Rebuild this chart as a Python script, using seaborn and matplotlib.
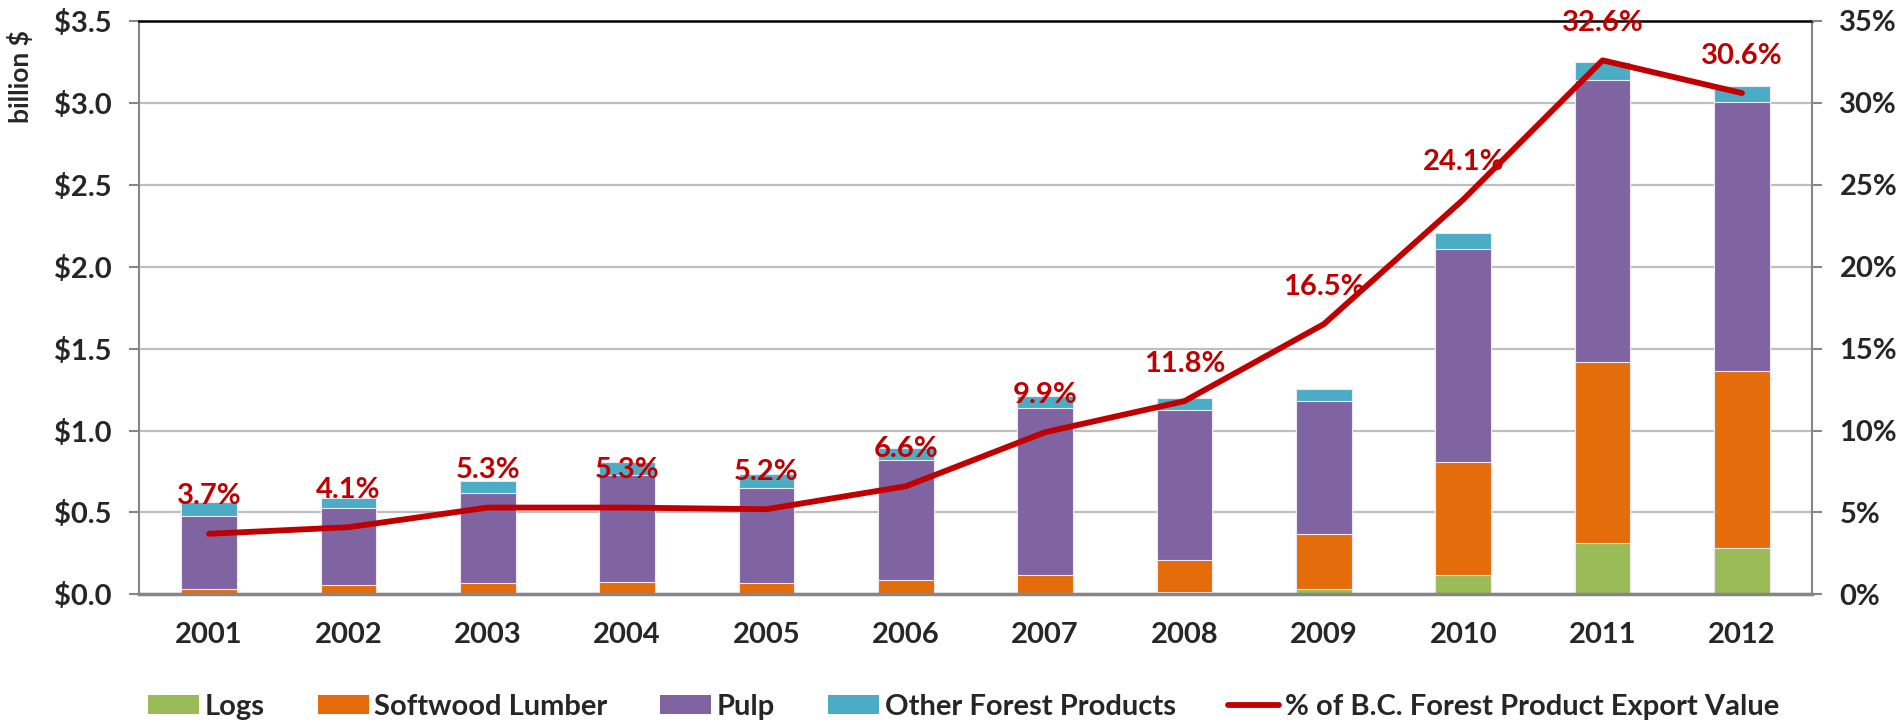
import numpy as np
import matplotlib
matplotlib.use("Agg")
import matplotlib.pyplot as plt
import seaborn as sns
from matplotlib.patches import Patch
from matplotlib.lines import Line2D
from matplotlib.ticker import FuncFormatter, FixedLocator

# === Data (billion $) ===
years = ["2001", "2002", "2003", "2004", "2005", "2006",
         "2007", "2008", "2009", "2010", "2011", "2012"]
logs = [0.000, 0.000, 0.000, 0.000, 0.005, 0.000,
        0.008, 0.017, 0.035, 0.120, 0.312, 0.283]
softwood = [0.035, 0.056, 0.068, 0.076, 0.065, 0.087,
            0.112, 0.196, 0.331, 0.691, 1.105, 1.083]
pulp = [0.442, 0.469, 0.552, 0.651, 0.579, 0.734,
        1.018, 0.913, 0.813, 1.295, 1.725, 1.642]
other = [0.085, 0.064, 0.074, 0.083, 0.087, 0.071,
         0.075, 0.071, 0.075, 0.099, 0.108, 0.096]
share_pct = [3.7, 4.1, 5.3, 5.3, 5.2, 6.6, 9.9, 11.8, 16.5, 24.1, 32.6, 30.6]

series_names = ["Logs", "Softwood Lumber", "Pulp", "Other Forest Products"]
series_colors = ["#9BBB59", "#E46C0A", "#8064A2", "#4BACC6"]
line_name = "% of B.C. Forest Product Export Value"
line_color = "#C00000"
axis_grey = "#868686"
fs = 21

sns.set_style("white")
plt.rcParams["font.family"] = ["Lato", "DejaVu Sans"]
plt.rcParams["font.weight"] = "bold"

fig, ax = plt.subplots(figsize=(19.01, 7.24), dpi=100)
fig.subplots_adjust(left=0.0733, right=0.953, top=0.971, bottom=0.179)

# === Stacked bars: draw cumulative totals from the top down ===
stack = np.cumsum(np.array([logs, softwood, pulp, other]), axis=0)
for level in range(len(series_names) - 1, -1, -1):
    sns.barplot(x=years, y=stack[level], color=series_colors[level],
                saturation=1, width=0.4, edgecolor="#EDE8F2", linewidth=0.8, ax=ax)

ax.set_xlim(-0.5, len(years) - 0.5)
ax.set_ylim(0, 3.5)
ax.yaxis.set_major_locator(FixedLocator(np.arange(0, 3.51, 0.5)))
ax.yaxis.set_major_formatter(FuncFormatter(lambda v, p: f"${v:.1f}"))
ax.grid(axis="y", color="#BFBFBF", linewidth=1.6)
ax.set_axisbelow(True)
ax.set_xlabel("")
ax.set_ylabel("")

ax.xaxis.set_minor_locator(FixedLocator(np.arange(-0.5, len(years), 1.0)))
ax.tick_params(axis="x", which="major", length=0, pad=20, labelsize=fs)
ax.tick_params(axis="x", which="minor", length=8, width=1.5, color=axis_grey, direction="out")
ax.tick_params(axis="y", length=7, width=1.5, color=axis_grey, direction="out",
               pad=13, labelsize=fs, left=True)

for side in ["left", "right"]:
    ax.spines[side].set_color(axis_grey)
    ax.spines[side].set_linewidth(1.5)
ax.spines["bottom"].set_color(axis_grey)
ax.spines["bottom"].set_linewidth(2.5)
ax.spines["top"].set_color("black")
ax.spines["top"].set_linewidth(1.8)

# === Share line on the right axis ===
ax2 = ax.twinx()
sns.lineplot(x=np.arange(len(years)), y=share_pct, color=line_color,
             linewidth=4.2, ax=ax2)
ax2.set_ylim(0, 35)
ax2.yaxis.set_major_locator(FixedLocator(np.arange(0, 35.1, 5)))
ax2.yaxis.set_major_formatter(FuncFormatter(lambda v, p: f"{v:.0f}%"))
ax2.tick_params(axis="y", length=7, width=1.5, color=axis_grey, direction="out",
                pad=13, labelsize=fs, right=True)
for s in ax2.spines.values():
    s.set_visible(False)
ax2.set_xlim(-0.5, len(years) - 0.5)

for i, v in enumerate(share_pct):
    ax2.annotate(f"{v}%", (i, v), xytext=(0, 27), textcoords="offset points",
                 ha="center", va="center", fontsize=fs, fontweight="bold",
                 color=line_color)

fig.text(20 / 1901, 1 - 30 / 724, "billion $", rotation=90, ha="center", va="top",
         fontsize=19, fontweight="bold")

# === Legend ===
handles = [Patch(facecolor=c, edgecolor="none", label=n)
           for n, c in zip(series_names, series_colors)]
handles.append(Line2D([0], [0], color=line_color, linewidth=4.2, label=line_name))
fig.legend(handles=handles, loc="center", bbox_to_anchor=(0.507, 0.024), ncol=5,
           frameon=False, fontsize=fs, handlelength=1.75, handleheight=0.62,
           handletextpad=0.2, columnspacing=1.8)

fig.savefig("out.png", dpi=100)
plt.close(fig)
